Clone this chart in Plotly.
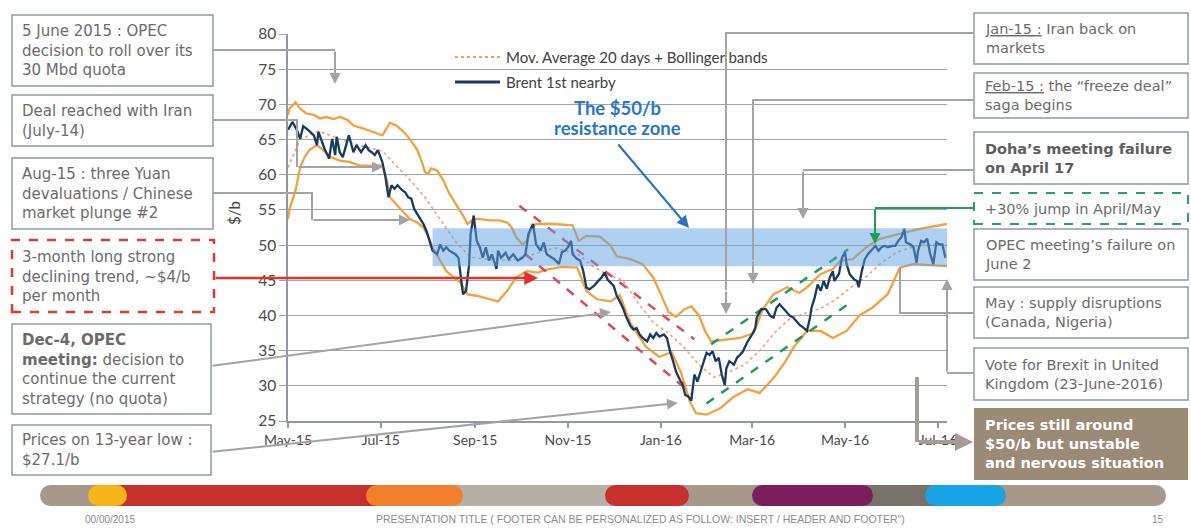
import plotly.graph_objects as go

W, H = 1191, 528

# ---------------- data ----------------
brent_dates = [
    "2015-05-01", "2015-05-02", "2015-05-04", "2015-05-07", "2015-05-09", "2015-05-11", "2015-05-14",
    "2015-05-18", "2015-05-20", "2015-05-21", "2015-05-23", "2015-05-25", "2015-05-28", "2015-05-30",
    "2015-06-01", "2015-06-02", "2015-06-04", "2015-06-06", "2015-06-10", "2015-06-13", "2015-06-15",
    "2015-06-18", "2015-06-21", "2015-06-23", "2015-06-25", "2015-06-27", "2015-06-29", "2015-07-02",
    "2015-07-04", "2015-07-06", "2015-07-08", "2015-07-10", "2015-07-12", "2015-07-15", "2015-07-17",
    "2015-07-19", "2015-07-21", "2015-07-23", "2015-07-27", "2015-07-29", "2015-07-31", "2015-08-02",
    "2015-08-04", "2015-08-07", "2015-08-09", "2015-08-11", "2015-08-13", "2015-08-15", "2015-08-19",
    "2015-08-21", "2015-08-22", "2015-08-23", "2015-08-24", "2015-08-26", "2015-08-28", "2015-08-29",
    "2015-08-31", "2015-09-02", "2015-09-04", "2015-09-06", "2015-09-08", "2015-09-10", "2015-09-12",
    "2015-09-15", "2015-09-16", "2015-09-18", "2015-09-21", "2015-09-23", "2015-09-26", "2015-09-29",
    "2015-10-02", "2015-10-04", "2015-10-06", "2015-10-09", "2015-10-11", "2015-10-14", "2015-10-16",
    "2015-10-18", "2015-10-21", "2015-10-23", "2015-10-26", "2015-10-28", "2015-10-30", "2015-11-01",
    "2015-11-03", "2015-11-04", "2015-11-07", "2015-11-09", "2015-11-11", "2015-11-13", "2015-11-15",
    "2015-11-18", "2015-11-20", "2015-11-23", "2015-11-25", "2015-11-27", "2015-12-01", "2015-12-03",
    "2015-12-05", "2015-12-07", "2015-12-09", "2015-12-12", "2015-12-14", "2015-12-16", "2015-12-18",
    "2015-12-20", "2015-12-23", "2015-12-25", "2015-12-27", "2015-12-29", "2015-12-31", "2016-01-03",
    "2016-01-05", "2016-01-07", "2016-01-09", "2016-01-11", "2016-01-14", "2016-01-15", "2016-01-17",
    "2016-01-19", "2016-01-21", "2016-01-22", "2016-01-23", "2016-01-25", "2016-01-27", "2016-01-29",
    "2016-01-31", "2016-02-02", "2016-02-04", "2016-02-06", "2016-02-08", "2016-02-10", "2016-02-12",
    "2016-02-13", "2016-02-15", "2016-02-18", "2016-02-20", "2016-02-22", "2016-02-24", "2016-02-25",
    "2016-02-27", "2016-03-01", "2016-03-03", "2016-03-04", "2016-03-07", "2016-03-10", "2016-03-13",
    "2016-03-15", "2016-03-17", "2016-03-19", "2016-03-21", "2016-03-24", "2016-03-26", "2016-03-28",
    "2016-03-30", "2016-04-01", "2016-04-04", "2016-04-06", "2016-04-08", "2016-04-09", "2016-04-11",
    "2016-04-13", "2016-04-15", "2016-04-17", "2016-04-19", "2016-04-21", "2016-04-23", "2016-04-24",
    "2016-04-27", "2016-04-29", "2016-05-01", "2016-05-02", "2016-05-04", "2016-05-07", "2016-05-09",
    "2016-05-10", "2016-05-12", "2016-05-14", "2016-05-16", "2016-05-19", "2016-05-21", "2016-05-23",
    "2016-05-25", "2016-05-27", "2016-05-29", "2016-06-01", "2016-06-03", "2016-06-05", "2016-06-07",
    "2016-06-09", "2016-06-10", "2016-06-13", "2016-06-15", "2016-06-17", "2016-06-18", "2016-06-20",
    "2016-06-22", "2016-06-24", "2016-06-26", "2016-06-28", "2016-06-30", "2016-07-02", "2016-07-04",
    "2016-07-06",
]
brent_values = [
    66.4, 66.8, 67.5, 66.3, 65.1, 66.9, 66.4,
    65.6, 64.2, 66.1, 64.9, 63.7, 62.3, 65.1,
    62.8, 65.4, 63.2, 62.5, 65.6, 63.2, 64.2,
    63.2, 64.2, 63.5, 63.2, 62.8, 63.5, 61.8,
    59.7, 56.8, 58.5, 58.0, 58.5, 57.8, 57.5,
    56.8, 56.6, 55.1, 53.7, 53.0, 52.0, 50.4,
    49.2, 48.7, 50.1, 49.2, 49.7, 49.2, 48.7,
    48.2, 46.3, 44.4, 43.0, 43.5, 47.3, 51.6,
    54.2, 50.6, 49.7, 48.2, 49.7, 47.8, 48.7,
    46.6, 49.2, 48.2, 48.9, 48.0, 48.7, 47.8,
    48.2, 48.7, 51.6, 53.0, 50.1, 49.2, 50.4,
    48.7, 48.2, 48.0, 47.3, 49.0, 49.2, 49.7,
    50.6, 48.7, 48.0, 47.8, 46.3, 44.0, 43.7,
    44.2, 44.7, 45.4, 46.1, 45.1, 44.2, 42.8,
    42.0, 41.1, 39.9, 38.5, 38.0, 38.2, 37.3,
    36.8, 36.3, 37.3, 36.8, 37.5, 37.0, 37.3,
    36.8, 34.9, 33.5, 32.0, 30.6, 30.4, 28.7,
    28.5, 27.9, 29.7, 31.6, 30.6, 32.0, 33.5,
    34.7, 34.4, 34.9, 33.5, 34.0, 31.6, 30.1,
    32.5, 33.5, 33.0, 34.0, 34.4, 34.9, 35.4,
    36.3, 37.3, 38.2, 39.7, 40.9, 40.9, 39.9,
    39.7, 41.1, 41.6, 41.1, 40.4, 39.9, 39.7,
    39.2, 38.7, 38.2, 37.8, 39.7, 41.1, 42.5,
    44.4, 43.5, 44.9, 43.8, 45.4, 46.3, 44.9,
    45.9, 48.2, 49.0, 47.3, 45.9, 45.1, 44.9,
    44.0, 46.3, 48.0, 48.7, 49.4, 49.9, 49.2,
    49.7, 49.9, 49.7, 49.9, 49.9, 50.6, 51.1,
    52.3, 50.4, 50.1, 49.7, 47.5, 49.2, 50.6,
    50.4, 50.9, 48.7, 47.3, 50.4, 50.1, 50.1,
    48.2,
]

upper_dates = [
    "2015-05-01", "2015-05-02", "2015-05-06", "2015-05-09", "2015-05-13", "2015-05-18", "2015-05-22",
    "2015-05-26", "2015-05-31", "2015-06-04", "2015-06-09", "2015-06-13", "2015-06-19", "2015-06-26",
    "2015-07-02", "2015-07-04", "2015-07-07", "2015-07-11", "2015-07-16", "2015-07-20", "2015-07-25",
    "2015-07-28", "2015-07-30", "2015-08-01", "2015-08-03", "2015-08-07", "2015-08-11", "2015-08-15",
    "2015-08-20", "2015-08-24", "2015-08-27", "2015-08-31", "2015-09-04", "2015-09-11", "2015-09-17",
    "2015-09-22", "2015-09-25", "2015-09-28", "2015-10-02", "2015-10-05", "2015-10-08", "2015-10-11",
    "2015-10-23", "2015-11-04", "2015-11-08", "2015-11-13", "2015-11-22", "2015-11-29", "2015-12-03",
    "2015-12-12", "2015-12-20", "2015-12-27", "2016-01-01", "2016-01-06", "2016-01-11", "2016-01-16",
    "2016-01-21", "2016-01-26", "2016-01-30", "2016-02-03", "2016-02-22", "2016-03-02", "2016-03-08",
    "2016-03-15", "2016-03-24", "2016-04-01", "2016-04-06", "2016-04-10", "2016-04-15", "2016-04-23",
    "2016-04-28", "2016-05-06", "2016-05-15", "2016-05-24", "2016-06-01", "2016-06-11", "2016-06-19",
    "2016-07-07",
]
upper_values = [
    68.5, 69.4, 70.3, 69.4, 68.7, 68.5, 68.0,
    68.2, 67.9, 68.2, 67.8, 67.0, 66.6, 66.1,
    65.6, 66.3, 67.4, 67.0, 66.1, 65.1, 63.5,
    61.8, 60.4, 60.1, 60.9, 60.6, 59.2, 57.3,
    55.6, 54.2, 53.0, 53.7, 53.7, 53.5, 53.5,
    53.2, 52.5, 51.1, 50.1, 50.6, 52.5, 53.0,
    53.0, 52.8, 50.6, 51.3, 51.2, 49.9, 48.4,
    48.0, 47.3, 45.4, 43.0, 40.5, 39.8, 40.8,
    41.3, 40.0, 37.8, 36.3, 36.8, 37.5, 40.9,
    43.0, 44.0, 43.2, 44.0, 44.9, 45.9, 46.6,
    47.8, 48.0, 49.7, 50.9, 51.3, 51.8, 52.3,
    53.0,
]

lower_dates = [
    "2015-05-01", "2015-05-02", "2015-05-06", "2015-05-09", "2015-05-12", "2015-05-15", "2015-05-20",
    "2015-05-23", "2015-05-29", "2015-06-04", "2015-06-11", "2015-06-17", "2015-06-24", "2015-07-02",
    "2015-07-05", "2015-07-07", "2015-07-12", "2015-07-16", "2015-07-20", "2015-07-25", "2015-07-29",
    "2015-08-01", "2015-08-04", "2015-08-09", "2015-08-13", "2015-08-17", "2015-08-22", "2015-08-27",
    "2015-09-02", "2015-09-11", "2015-09-16", "2015-09-22", "2015-09-28", "2015-10-05", "2015-10-12",
    "2015-10-18", "2015-10-28", "2015-11-07", "2015-11-13", "2015-11-20", "2015-11-29", "2015-12-05",
    "2015-12-12", "2015-12-22", "2015-12-31", "2016-01-08", "2016-01-14", "2016-01-20", "2016-01-24",
    "2016-01-31", "2016-02-09", "2016-02-17", "2016-02-27", "2016-03-06", "2016-03-15", "2016-03-23",
    "2016-03-28", "2016-04-06", "2016-04-15", "2016-04-23", "2016-05-02", "2016-05-11", "2016-05-19",
    "2016-05-29", "2016-06-01", "2016-06-06", "2016-06-15", "2016-07-07",
]
lower_values = [
    53.7, 55.1, 57.8, 61.1, 62.5, 63.5, 64.2,
    63.7, 62.5, 62.0, 61.8, 61.3, 61.3, 61.3,
    59.2, 56.8, 55.6, 54.7, 53.7, 53.2, 52.5,
    51.3, 49.7, 47.8, 46.3, 45.6, 44.7, 43.0,
    42.8, 42.3, 42.0, 43.5, 45.4, 46.3, 46.1,
    46.5, 46.9, 46.8, 43.5, 42.3, 42.0, 42.9,
    38.9, 35.6, 34.1, 34.8, 32.0, 27.8, 26.1,
    25.9, 26.8, 28.3, 29.5, 29.0, 31.1, 33.5,
    35.4, 37.8, 37.8, 36.8, 37.8, 40.1, 41.1,
    43.0, 44.4, 46.8, 47.3, 47.0,
]

ma_dates = [
    "2015-05-01", "2015-05-09", "2015-05-21", "2015-06-05", "2015-06-20", "2015-07-02", "2015-07-10",
    "2015-07-20", "2015-07-30", "2015-08-09", "2015-08-19", "2015-08-29", "2015-09-08", "2015-09-23",
    "2015-10-08", "2015-10-23", "2015-11-07", "2015-11-17", "2015-11-27", "2015-12-07", "2015-12-17",
    "2015-12-27", "2016-01-06", "2016-01-16", "2016-01-26", "2016-02-05", "2016-02-15", "2016-02-25",
    "2016-03-06", "2016-03-16", "2016-03-26", "2016-04-05", "2016-04-15", "2016-04-25", "2016-05-05",
    "2016-05-15", "2016-05-25", "2016-06-04", "2016-06-14", "2016-06-24", "2016-07-07",
]
ma_values = [
    61.0, 65.0, 66.2, 65.0, 64.0, 63.4, 61.5,
    59.3, 56.8, 53.7, 50.5, 48.3, 48.0, 47.8,
    48.6, 49.6, 48.8, 47.0, 45.8, 45.0, 41.8,
    39.0, 37.5, 35.5, 33.0, 31.2, 32.0, 33.0,
    35.0, 37.6, 39.6, 40.3, 41.0, 42.3, 44.0,
    45.5, 47.5, 49.0, 49.7, 50.1, 50.0,
]

# trend channels (start, end)
red_up_dates, red_up_values = ["2015-09-30", "2016-01-23"], [55.6, 36.6]
red_lo_dates, red_lo_values = ["2015-10-04", "2016-01-21"], [48.7, 28.9]
green_up_dates, green_up_values = ["2016-02-03", "2016-05-03"], [35.9, 49.4]
green_lo_dates, green_lo_values = ["2016-01-31", "2016-05-03"], [27.5, 41.6]

# $50/b resistance zone
zone_start, zone_low, zone_high = "2015-08-04", 47.0, 52.4

x_range = ["2015-05-01", "2016-07-07"]
y_range = [25, 80]

# ---------------- helpers (pixel -> paper) ----------------
def fx(x):
    return x / W


def fy(y):
    return 1 - y / H


shapes = []
annotations = []

GRAY = "#a3a3a3"
BOXLINE = "#8e9ba4"
TXT = "#6b6b6b"
BOXFONT = "DejaVu Sans"


def rect(x0, y0, x1, y1, fill="white", line="rgba(0,0,0,0)", width=0, dash="solid", layer="above"):
    shapes.append(dict(type="rect", xref="paper", yref="paper", x0=fx(x0), x1=fx(x1),
                       y0=fy(y1), y1=fy(y0), fillcolor=fill, layer=layer,
                       line=dict(color=line, width=width, dash=dash)))


def polyline(points, color, width, dash="solid"):
    d = "M " + " L ".join(f"{fx(x):.5f},{fy(y):.5f}" for x, y in points)
    shapes.append(dict(type="path", xref="paper", yref="paper", path=d, layer="above",
                       line=dict(color=color, width=width, dash=dash)))


def arrow(tail, head, color, width, size=1.1):
    annotations.append(dict(x=fx(head[0]), y=fy(head[1]), xref="paper", yref="paper",
                            ax=tail[0] - head[0], ay=tail[1] - head[1], axref="pixel", ayref="pixel",
                            text="", showarrow=True, arrowhead=2, arrowsize=size,
                            arrowwidth=width, arrowcolor=color))


def text(x, y, s, size=15, color=TXT, family=BOXFONT, xanchor="left", yanchor="middle",
         align="left", angle=0):
    annotations.append(dict(x=fx(x), y=fy(y), xref="paper", yref="paper", text=s,
                            showarrow=False, xanchor=xanchor, yanchor=yanchor, align=align,
                            textangle=angle, font=dict(family=family, size=size, color=color)))


def pill(x0, x1, y0, y1, color):
    r = (y1 - y0) / 2
    shapes.append(dict(type="circle", xref="paper", yref="paper", x0=fx(x0), x1=fx(x0 + 2 * r),
                       y0=fy(y1), y1=fy(y0), fillcolor=color, line=dict(width=0), layer="above"))
    shapes.append(dict(type="circle", xref="paper", yref="paper", x0=fx(x1 - 2 * r), x1=fx(x1),
                       y0=fy(y1), y1=fy(y0), fillcolor=color, line=dict(width=0), layer="above"))
    rect(x0 + r, y0, x1 - r, y1, fill=color)


# ---------------- figure ----------------
fig = go.Figure()

fig.add_trace(go.Scatter(x=ma_dates, y=ma_values, mode="lines",
                         line=dict(color="#eea56a", width=1.6, dash="dot"), hoverinfo="skip"))
fig.add_trace(go.Scatter(x=upper_dates, y=upper_values, mode="lines",
                         line=dict(color="#f5a03c", width=2.3), hoverinfo="skip"))
fig.add_trace(go.Scatter(x=lower_dates, y=lower_values, mode="lines",
                         line=dict(color="#f5a03c", width=2.3), hoverinfo="skip"))
fig.add_trace(go.Scatter(x=red_up_dates, y=red_up_values, mode="lines",
                         line=dict(color="#d94a5a", width=2.5, dash="dash"), hoverinfo="skip"))
fig.add_trace(go.Scatter(x=red_lo_dates, y=red_lo_values, mode="lines",
                         line=dict(color="#d94a5a", width=2.5, dash="dash"), hoverinfo="skip"))
fig.add_trace(go.Scatter(x=green_up_dates, y=green_up_values, mode="lines",
                         line=dict(color="#1f9a5c", width=2.5, dash="dash"), hoverinfo="skip"))
fig.add_trace(go.Scatter(x=green_lo_dates, y=green_lo_values, mode="lines",
                         line=dict(color="#1f9a5c", width=2.5, dash="dash"), hoverinfo="skip"))
fig.add_trace(go.Scatter(x=brent_dates, y=brent_values, mode="lines",
                         line=dict(color="#173a60", width=2.3), hoverinfo="skip"))

# white covers that interrupt gridlines behind the legend / blue text
rect(442, 46, 782, 94, layer="between")
rect(535, 94, 699, 147, layer="between")

# resistance zone
shapes.append(dict(type="rect", xref="x", yref="y", x0=zone_start, x1=x_range[1],
                   y0=zone_low, y1=zone_high, fillcolor="rgba(95,162,226,0.5)",
                   line=dict(width=0), layer="above"))

# in-chart legend
shapes.append(dict(type="line", xref="paper", yref="paper", x0=fx(455), x1=fx(500), y0=fy(57), y1=fy(57),
                   line=dict(color="#f0a050", width=2, dash="dot"), layer="above"))
shapes.append(dict(type="line", xref="paper", yref="paper", x0=fx(455), x1=fx(500), y0=fy(82), y1=fy(82),
                   line=dict(color="#173a60", width=3), layer="above"))
text(504, 57, "Mov. Average 20 days + Bollinger bands", size=15, color="#404040", family="Lato")
text(504, 82, "Brent 1st nearby", size=15, color="#404040", family="Lato")

# blue label + arrow
text(617, 108, "<b>The $50/b</b>", size=18.5, color="#2477c9", family="Lato", xanchor="center")
text(617, 128, "<b>resistance zone</b>", size=18.5, color="#2477c9", family="Lato", xanchor="center")
arrow((617, 143), (689, 228), "#2a73c2", 2.2)

# y-axis title
text(234, 213, "$/b", size=15, color="#404040", family="Lato", xanchor="center", angle=-90)

# ---------------- left boxes ----------------
L0, L1 = 12, 213
rect(L0, 15, L1, 86, line=BOXLINE, width=1.5)
text(L0 + 8, 50.5, "5 June 2015 : OPEC<br>decision to roll over its<br>30 Mbd quota")
rect(L0, 95, L1, 146, line=BOXLINE, width=1.5)
text(L0 + 8, 120.5, "Deal reached with Iran<br>(July-14)")
rect(L0, 158, L1, 229, line=BOXLINE, width=1.5)
text(L0 + 8, 193.5, "Aug-15 : three Yuan<br>devaluations / Chinese<br>market plunge #2")
rect(L0, 240, L1 + 1, 312, line="#dc3a33", width=2.5, dash="dash")
text(L0 + 8, 276, "3-month long strong<br>declining trend, ~$4/b<br>per month")
rect(L0, 324, L1 - 2, 414, line=BOXLINE, width=1.5)
text(L0 + 8, 369, "<b>Dec-4, OPEC</b><br><b>meeting:</b> decision to<br>continue the current<br>strategy (no quota)")
rect(L0, 425, L1 - 2, 475, line=BOXLINE, width=1.5)
text(L0 + 8, 450, "Prices on 13-year low :<br>$27.1/b")

# left connectors
polyline([(L1, 50), (335, 50)], GRAY, 2)
arrow((335, 50), (335, 84), GRAY, 2)
polyline([(L1, 120), (297, 120), (297, 167)], GRAY, 2)
arrow((297, 167), (383, 167), GRAY, 2)
polyline([(L1, 193), (312, 193), (312, 220)], GRAY, 2)
arrow((312, 220), (410, 220), GRAY, 2)
arrow((L1 + 1, 278), (538, 278), "#e3302a", 2.5)
arrow((L1 - 2, 366), (611, 312), GRAY, 2)
arrow((L1 - 2, 452), (678, 403), GRAY, 2)

# ---------------- right boxes ----------------
R0, R1 = 974, 1188
RS = 14.5
rect(R0, 13, R1, 64, line=BOXLINE, width=1.5)
text(R0 + 9, 38.5, "<u>Jan-15 :</u> Iran back on<br>markets", size=RS)
rect(R0, 73, R1, 118, line=BOXLINE, width=1.5)
text(R0 + 9, 95.5, "<u>Feb-15 :</u> the \u201cfreeze deal\u201d<br>saga begins", size=RS)
rect(R0, 132, R1, 184, line=BOXLINE, width=1.5)
text(R0 + 9, 158, "<b>Doha\u2019s meeting failure<br>on April 17</b>", size=RS, color="#5e5e5e")
rect(R0, 193, R1, 224, line="#23a07a", width=2, dash="dash")
text(R0 + 9, 208.5, "+30% jump in April/May", size=RS)
rect(R0, 229, R1, 280, line=BOXLINE, width=1.5)
text(R0 + 9, 254.5, "OPEC meeting\u2019s failure on<br>June 2", size=RS)
rect(R0, 287, R1, 338, line=BOXLINE, width=1.5)
text(R0 + 9, 312.5, "May : supply disruptions<br>(Canada, Nigeria)", size=RS)
rect(R0, 348, R1, 400, line=BOXLINE, width=1.5)
text(R0 + 9, 374, "Vote for Brexit in United<br>Kingdom (23-June-2016)", size=RS)
rect(R0, 408, R1, 480, fill="#9a8a76")
text(R0 + 9, 444, "<b>Prices still around<br>$50/b but unstable<br>and nervous situation</b>",
     size=RS, color="white")

# right connectors
polyline([(R0, 33), (726, 33), (726, 290)], GRAY, 2)
arrow((726, 290), (726, 314), GRAY, 2)
polyline([(R0, 100), (753, 100), (753, 260)], GRAY, 2)
arrow((753, 260), (753, 284), GRAY, 2)
polyline([(R0, 170), (803, 170)], GRAY, 2)
arrow((803, 170), (803, 219), GRAY, 2)
polyline([(R0, 208), (875, 208)], "#1d9d55", 2)
arrow((875, 208), (875, 244), "#1d9d55", 2)
polyline([(R0, 313), (900, 313), (900, 268)], GRAY, 2)
polyline([(R0, 373), (947, 373)], GRAY, 2)
arrow((947, 373), (947, 279), GRAY, 2)
polyline([(917, 377), (917, 442)], "#a59c93", 4)
arrow((917, 442), (973, 442), "#a59c93", 4, size=0.9)

# ---------------- footer ----------------
pill(40, 1166, 485, 506, "#a6998b")
rect(110, 485, 380, 506, fill="#c8312b")
rect(455, 485, 615, 506, fill="#b7aea5")
rect(860, 485, 935, 506, fill="#79726b")
pill(88, 127, 485, 506, "#f8b51a")
pill(366, 463, 485, 506, "#f17f2b")
pill(605, 689, 485, 506, "#c9302b")
pill(752, 873, 485, 506, "#7a1e5c")
pill(925, 1006, 485, 506, "#18a4e2")
FOOT = "Liberation Sans"
text(110, 519, "00/00/2015", size=10, color="#8c8c8c", family=FOOT, xanchor="center")
text(640, 519, "PRESENTATION TITLE ( FOOTER CAN BE PERSONALIZED AS FOLLOW: INSERT / HEADER AND FOOTER\")",
     size=10.5, color="#8c8c8c", family=FOOT, xanchor="center")
text(1158, 519, "15", size=10, color="#8c8c8c", family=FOOT, xanchor="center")

fig.update_layout(
    width=W, height=H,
    margin=dict(l=0, r=0, t=0, b=0, autoexpand=False),
    paper_bgcolor="white", plot_bgcolor="white",
    showlegend=False,
    shapes=shapes, annotations=annotations,
    xaxis=dict(domain=[288 / W, 947 / W], type="date", range=x_range, automargin=False,
               tick0="2015-05-01", dtick="M2", tickformat="%b-%y",
               showgrid=False, showline=True, linecolor="#8e9ba4", linewidth=1.5,
               ticks="outside", ticklen=5, tickcolor="#8e9ba4", tickwidth=1.5,
               tickfont=dict(family="Lato", size=14, color="#4a4a4a"), zeroline=False),
    yaxis=dict(domain=[1 - 421 / H, 1 - 34 / H], range=y_range, dtick=5, tick0=25, automargin=False,
               showgrid=True, gridcolor="#9aa5ad", gridwidth=1.3,
               showline=True, linecolor="#8e9ba4", linewidth=1.5,
               ticks="outside", ticklen=7, tickcolor="#9aa5ad", tickwidth=1.3,
               tickfont=dict(family="Lato", size=15.5, color="#4a4a4a"), zeroline=False),
)

fig.write_html("out.html", config={"displayModeBar": False},
               post_script="document.body.style.margin='0px';")
